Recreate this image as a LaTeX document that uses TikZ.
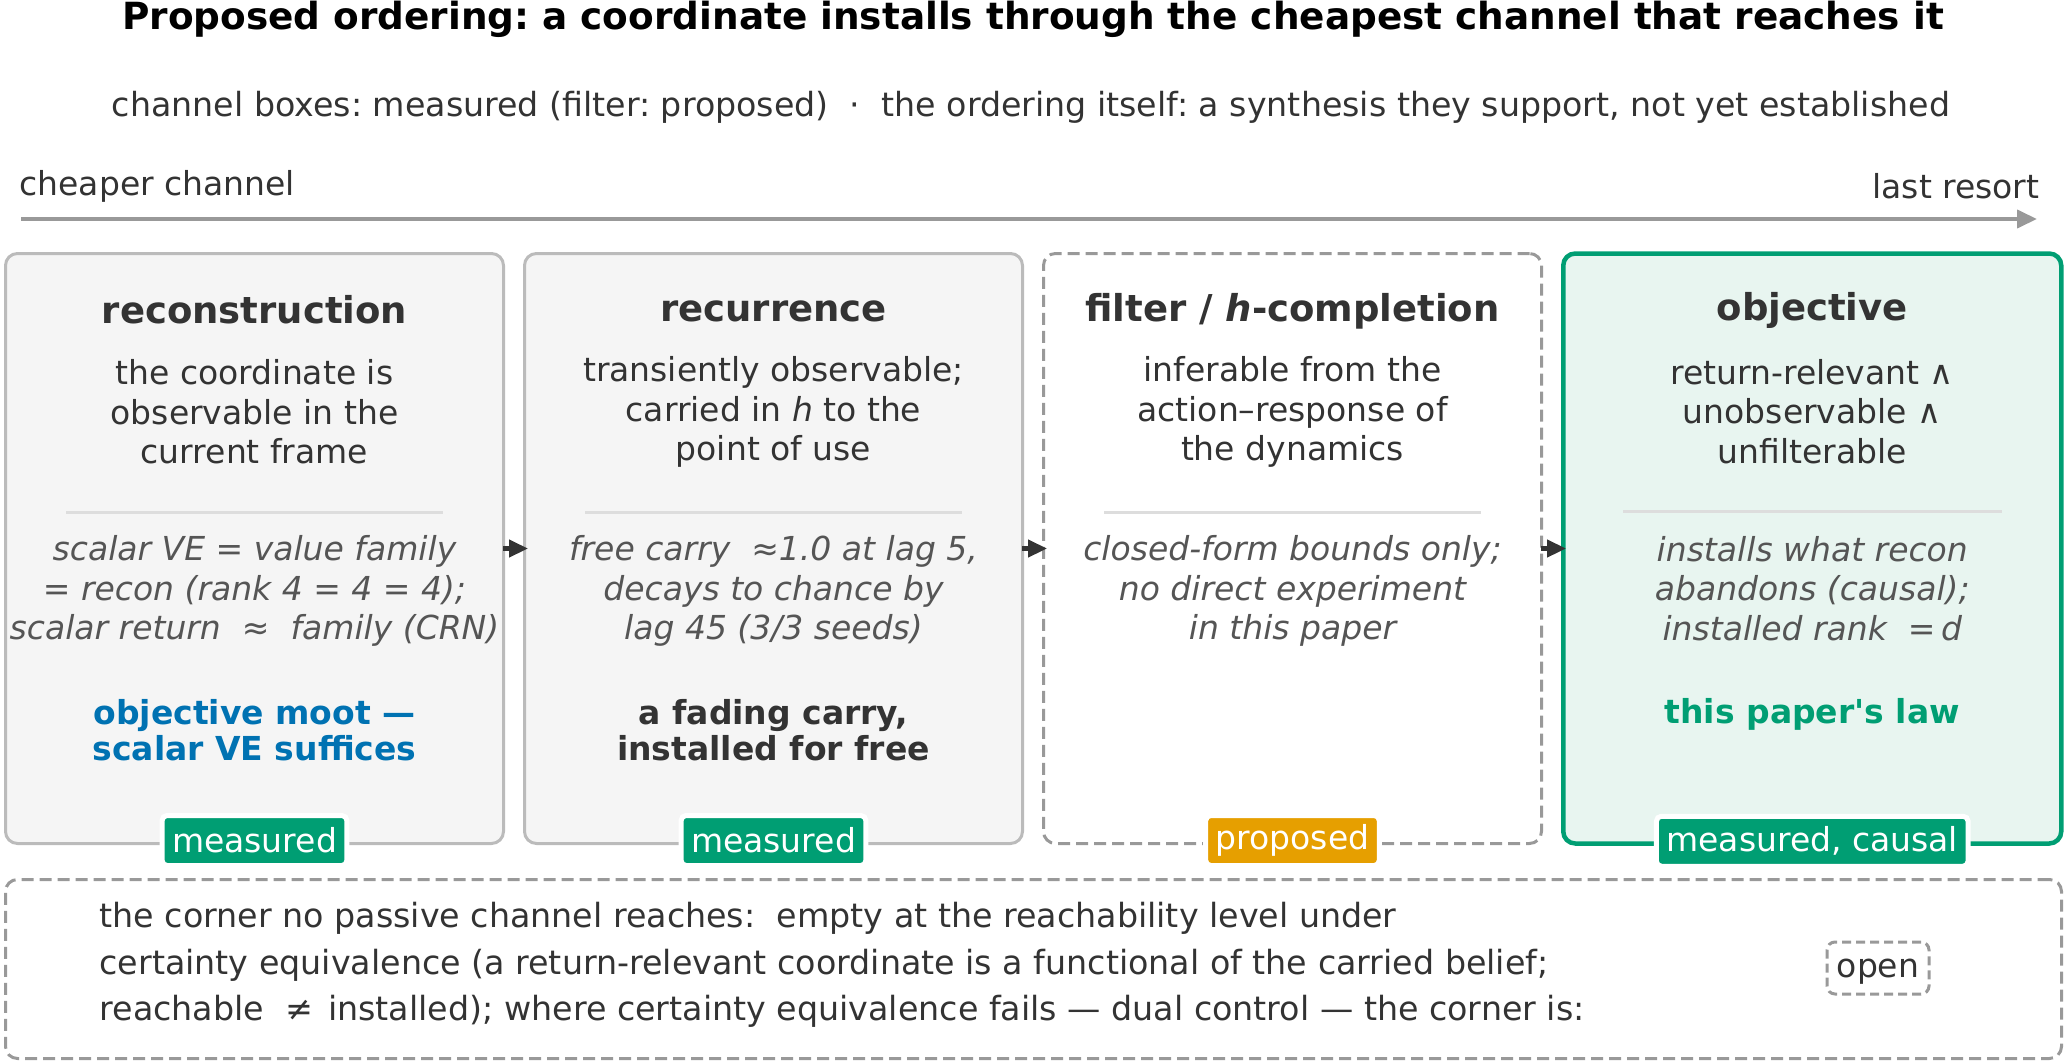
\documentclass[tikz,border=0pt]{standalone}
\usepackage{fontspec}
\setmainfont{DejaVu Sans}
\usepackage{xcolor}
\usetikzlibrary{arrows.meta,positioning,calc}
\definecolor{ink}{HTML}{333333}
\definecolor{soft}{HTML}{555555}
\definecolor{rulegray}{HTML}{BBBBBB}
\definecolor{dashgray}{HTML}{999999}
\definecolor{sepgray}{HTML}{DDDDDD}
\definecolor{okgreen}{HTML}{009E73}
\definecolor{okblue}{HTML}{0072B2}
\definecolor{okorange}{HTML}{E69F00}
\definecolor{lightgreen}{HTML}{E8F5F0}
\definecolor{lightgray}{HTML}{F5F5F5}
\frenchspacing

\begin{document}
\begin{tikzpicture}[
    x=1pt, y=-1pt,
    node distance=18pt,
    channel/.style={rectangle, draw=rulegray, line width=3pt, rounded corners=12pt, minimum width=498pt, minimum height=590pt, fill=lightgray},
    chantitle/.style={font=\fontsize{37}{44}\selectfont\bfseries, text=ink},
    chanbody/.style={font=\fontsize{33}{39.5}\selectfont, text=ink, align=center},
    channote/.style={font=\fontsize{33}{39.5}\selectfont\itshape, text=soft, align=center},
    verdict/.style={font=\fontsize{33}{36.5}\selectfont\bfseries, align=center},
    badge/.style={rectangle, draw=white, line width=5pt, rounded corners=5pt, fill=okgreen, text=white, font=\fontsize{33}{39}\selectfont, minimum height=50pt, inner xsep=10pt, inner ysep=0pt},
    sep/.style={draw=sepgray, line width=3pt},
    flow/.style={-{Triangle[length=19pt,width=17pt]}, draw=ink, line width=4.5pt, shorten >=-5pt, shorten <=-2pt},
    axis/.style={-{Triangle[length=20pt,width=18pt]}, draw=dashgray, line width=4pt}
]
    \useasboundingbox (0,0) rectangle (2067,1062);

    % Heading
    \node[font=\fontsize{37.4}{44}\selectfont\bfseries] (title) at (1033,19) {Proposed ordering: a coordinate installs through the cheapest channel that reaches it};
    \node[font=\fontsize{33.25}{39}\selectfont, text=ink] (subtitle) at (1031,107) {channel boxes: measured (filter: proposed) \ · \ the ordering itself: a synthesis they support, not yet established};

    % Cost axis
    \coordinate (axl) at (21,219);
    \coordinate (axr) at (2037,219);
    \draw[axis] (axl) -- (axr);
    \node[font=\fontsize{33}{39}\selectfont, text=ink, anchor=west] (cheap) at (16,186) {cheaper channel};
    \node[font=\fontsize{33}{39}\selectfont, text=ink, anchor=east] (last) at (2043,186) {last resort};

    % Channels
    \node[channel] (rec) at (254.5,548.5) {};
    \node[channel, right=of rec] (rcr) {};
    \node[channel, right=of rcr, draw=dashgray, dash pattern=on 12pt off 6pt, fill=white] (flt) {};
    \node[channel, right=of flt, draw=okgreen, line width=4.5pt, fill=lightgreen] (obj) {};

    % Reconstruction
    \node[chantitle] (rect) at ($(rec.north)+(0,58)$) {reconstruction};
    \node[chanbody] (recb) at ($(rec.north)+(0,160)$) {the coordinate is\\observable in the\\current frame};
    \draw[sep] ($(rec.north west)+(62,260)$) -- ($(rec.north east)+(-62,260)$);
    \node[channote] (recn) at ($(rec.north)+(0,339)$) {scalar VE = value family\\= recon (rank 4 = 4 = 4);\\scalar return \ ≈ \ family (CRN)};
    \node[verdict, text=okblue] (recv) at ($(rec.north)+(0,478)$) {objective moot —\\scalar VE suffices};
    \node[badge] (recg) at ($(rec.south)+(0,-4.5)$) {measured};

    % Recurrence
    \node[chantitle] (rcrt) at ($(rcr.north)+(0,59)$) {recurrence};
    \node[chanbody] (rcrb) at ($(rcr.north)+(0,160)$) {transiently observable;\\carried in \textit{h} to the\\point of use};
    \draw[sep] ($(rcr.north west)+(62,260)$) -- ($(rcr.north east)+(-62,260)$);
    \node[channote] (rcrn) at ($(rcr.north)+(0,339)$) {free carry \ ≈1.0 at lag 5,\\decays to chance by\\lag 45 (3/3 seeds)};
    \node[verdict, text=ink] (rcrv) at ($(rcr.north)+(0,478)$) {a fading carry,\\installed for free};
    \node[badge] (rcrg) at ($(rcr.south)+(0,-4.5)$) {measured};

    % Filter
    \node[chantitle] (fltt) at ($(flt.north)+(0,59)$) {filter / \textit{h}-completion};
    \node[chanbody] (fltb) at ($(flt.north)+(0,160)$) {inferable from the\\action–response of\\the dynamics};
    \draw[sep] ($(flt.north west)+(62,260)$) -- ($(flt.north east)+(-62,260)$);
    \node[channote] (fltn) at ($(flt.north)+(0,339)$) {closed-form bounds only;\\no direct experiment\\in this paper};
    \node[badge, fill=okorange] (fltg) at ($(flt.south)+(0,-4.5)$) {proposed};

    % Objective
    \node[chantitle] (objt) at ($(obj.north)+(0,59)$) {objective};
    \node[chanbody] (objb) at ($(obj.north)+(0,160)$) {return-relevant ∧\\unobservable ∧\\unfilterable};
    \draw[sep] ($(obj.north west)+(62,260)$) -- ($(obj.north east)+(-62,260)$);
    \node[channote] (objn) at ($(obj.north)+(0,337)$) {installs what recon\\abandons (causal);\\installed rank \ =\,\textit{d}};
    \node[verdict, text=okgreen] (objv) at ($(obj.north)+(0,463)$) {this paper\textquotesingle s law};
    \node[badge] (objg) at ($(obj.south)+(0,-4.5)$) {measured, causal};

    % Ordering arrows
    \draw[flow] (rec) -- (rcr);
    \draw[flow] (rcr) -- (flt);
    \draw[flow] (flt) -- (obj);

    % Open corner
    \node[rectangle, draw=dashgray, line width=3pt, dash pattern=on 12pt off 6pt, rounded corners=12pt, minimum width=2056pt, minimum height=179pt] (corner) at (1033.5,969) {};
    \node[font=\fontsize{33.3}{46.8}\selectfont, text=ink, align=left, anchor=west] (cornert) at ($(corner.west)+(92,-4)$) {the corner no passive channel reaches: \ empty at the reachability level under\\certainty equivalence (a return-relevant coordinate is a functional of the carried belief;\\reachable \ ≠\hspace{0.45em}installed); where certainty equivalence fails — dual control — the corner is:};
    \node[rectangle, draw=dashgray, line width=3pt, dash pattern=on 9pt off 5pt, rounded corners=8pt, minimum width=102pt, minimum height=52pt, text height=26pt, text depth=8pt, font=\fontsize{33}{39}\selectfont, text=ink] (open) at (1878,968) {open};
\end{tikzpicture}
\end{document}
